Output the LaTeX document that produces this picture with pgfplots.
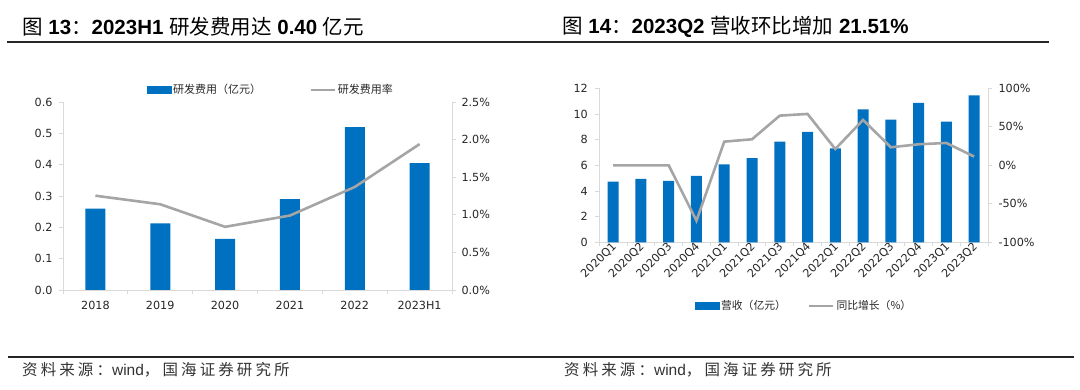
\documentclass[border=0pt]{standalone}
\usepackage{pgfplots}
\pgfplotsset{compat=1.18}
\usepackage{fontspec}
\setmainfont{Liberation Sans}
\newfontfamily\cjk{Noto Sans CJK SC}
\newfontfamily\cjkls[LetterSpace=20]{Noto Sans CJK SC}
\newfontfamily\tickfont{DejaVu Sans}
\definecolor{barblue}{HTML}{0070C0}
\definecolor{linegray}{HTML}{A5A5A5}
\definecolor{axgray}{HTML}{D9D9D9}
\definecolor{txt}{HTML}{262626}
\pgfplotsset{
  base/.style={
    scale only axis, tick align=outside,
    axis line style={axgray, line width=0.9pt},
    major tick length=4pt, minor tick length=4pt,
    every tick/.style={axgray, line width=0.9pt},
    ticklabel style={font=\tickfont\fontsize{11.2}{13}\selectfont, text=txt},
    /pgf/number format/assume math mode=true,
    clip=false,
  },
  legimg bar/.style={legend image code/.code={\fill[barblue] (0pt,-3.5pt) rectangle (24pt,3.5pt);}},
  legimg line/.style={legend image code/.code={\draw[linegray, line width=2.6pt] (0pt,0pt) -- (24pt,0pt);}},
}
\begin{document}
\begin{tikzpicture}
\useasboundingbox (0,0) rectangle (1080pt,-390pt);
% titles
\node[anchor=west, inner sep=0pt] at (22pt,-27pt) {\fontsize{20.5}{24}\selectfont {\cjk 图} \textbf{13}{\cjk ：}\textbf{2023H1} {\cjk 研发费用达} \textbf{0.40} {\cjk 亿元}};
\node[anchor=west, inner sep=0pt] at (562pt,-27pt) {\fontsize{20.5}{24}\selectfont {\cjk 图} \textbf{14}{\cjk ：}\textbf{2023Q2} {\cjk 营收环比增加} \textbf{21.51\%}};
\draw[black!85, line width=2.5pt] (7pt,-42pt) -- (1049pt,-42pt);
\draw[black!85, line width=2.5pt] (8pt,-357pt) -- (1074pt,-357pt);
\node[anchor=west, inner sep=0pt, text=black!80] at (22pt,-370pt) {\fontsize{15.5}{18}\selectfont {\cjkls 资料来源：}wind{\cjkls ，国海证券研究所}};
\node[anchor=west, inner sep=0pt, text=black!80] at (564pt,-370pt) {\fontsize{15.5}{18}\selectfont {\cjkls 资料来源：}wind{\cjkls ，国海证券研究所}};

% ---------- left chart ----------
\begin{axis}[base, at={(63pt,-290pt)}, anchor=south west, width=389pt, height=188pt,
  xmin=-0.5, xmax=5.5, ymin=0, ymax=0.6,
  ytick={0,0.1,0.2,0.3,0.4,0.5,0.6},
  yticklabel style={/pgf/number format/.cd, fixed, fixed zerofill, precision=1, /tikz/xshift=-3pt},
  axis x line*=bottom, axis y line*=left,
  xtick={0,1,2,3,4,5}, xticklabels={2018,2019,2020,2021,2022,2023H1},
  xticklabel style={yshift=-4pt},
  major x tick style={draw=none},
  minor xtick={-0.5,0.5,1.5,2.5,3.5,4.5,5.5},
  ybar, bar width=20pt]
\addplot[fill=barblue, draw=none] coordinates {(0,0.26)(1,0.213)(2,0.163)(3,0.29)(4,0.52)(5,0.405)};
\end{axis}
\begin{axis}[base, at={(63pt,-290pt)}, anchor=south west, width=389pt, height=188pt,
  xmin=-0.5, xmax=5.5, ymin=0, ymax=2.5,
  ytick={0,0.5,1,1.5,2,2.5},
  yticklabel={\pgfmathprintnumber[fixed,fixed zerofill,precision=1]{\tick}\%},
  yticklabel style={xshift=2pt},
  axis y line*=right, axis x line=none,
  legend columns=2,
  legend style={at={(0.215,1.064)}, anchor=west, draw=none, fill=none, inner sep=0pt,
    font=\cjk\fontsize{11}{13}\selectfont, text=txt,
    /tikz/every even column/.append style={column sep=46pt}}]
\addlegendimage{legimg bar}
\addlegendentry{研发费用（亿元）}
\addplot[linegray, line width=2.6pt, legimg line] coordinates {(0,1.254)(1,1.14)(2,0.84)(3,0.99)(4,1.37)(5,1.94)};
\addlegendentry{研发费用率}
\end{axis}

% ---------- right chart ----------
\begin{axis}[base, at={(599.3pt,-242.3pt)}, anchor=south west, width=388.7pt, height=154pt,
  xmin=-0.5, xmax=13.5, ymin=0, ymax=12,
  ytick={0,2,4,6,8,10,12},
  yticklabel style={xshift=-4pt},
  axis x line*=bottom, axis y line*=left,
  xtick={0,...,13},
  xticklabels={2020Q1,2020Q2,2020Q3,2020Q4,2021Q1,2021Q2,2021Q3,2021Q4,2022Q1,2022Q2,2022Q3,2022Q4,2023Q1,2023Q2},
  xticklabel style={rotate=45, anchor=east, inner sep=1pt, xshift=3pt},
  major x tick style={draw=none},
  minor xtick={-0.5,0.5,...,13.5},
  ybar, bar width=11pt]
\addplot[fill=barblue, draw=none] coordinates {(0,4.73)(1,4.94)(2,4.78)(3,5.17)(4,6.08)(5,6.55)(6,7.84)(7,8.60)(8,7.32)(9,10.36)(10,9.56)(11,10.86)(12,9.40)(13,11.45)};
\end{axis}
\begin{axis}[base, at={(599.3pt,-242.3pt)}, anchor=south west, width=388.7pt, height=154pt,
  xmin=-0.5, xmax=13.5, ymin=-100, ymax=100,
  ytick={-100,-50,0,50,100},
  yticklabel={\pgfmathprintnumber{\tick}\%},
  yticklabel style={xshift=3pt},
  axis y line*=right, axis x line=none,
  legend columns=2,
  legend style={at={(0.245,-0.414)}, anchor=west, draw=none, fill=none, inner sep=0pt,
    font=\cjk\fontsize{10.8}{13}\selectfont, text=txt,
    /tikz/every even column/.append style={column sep=20pt}}]
\addlegendimage{legimg bar}
\addlegendentry{营收（亿元）}
\addplot[linegray, line width=2.6pt, legimg line] coordinates {(0,0)(1,0)(2,0)(3,-71.9)(4,30.7)(5,33.8)(6,64.5)(7,66.7)(8,21.2)(9,58.9)(10,23.4)(11,27.3)(12,29.0)(13,11.3)};
\addlegendentry{同比增长（\%）}
\end{axis}
\end{tikzpicture}
\end{document}
